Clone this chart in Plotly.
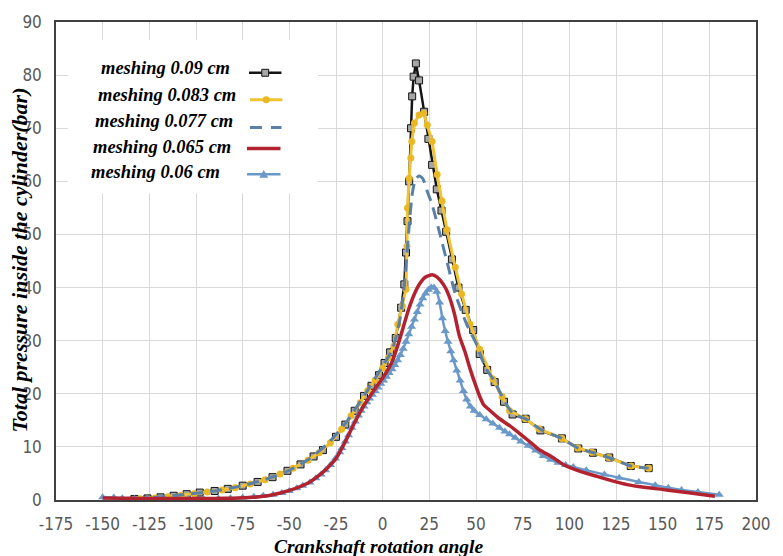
import plotly.graph_objects as go

# ---------------- data ----------------
x_ticks = [-175, -150, -125, -100, -75, -50, -25, 0, 25, 50, 75, 100, 125, 150, 175, 200]
y_ticks = [0, 10, 20, 30, 40, 50, 60, 70, 80, 90]

series_names = ["meshing 0.09 cm", "meshing 0.083 cm", "meshing 0.077 cm",
                "meshing 0.065 cm", "meshing 0.06 cm"]

# meshing 0.09 cm (black, square markers)
x_009 = [-133, -126, -119, -112, -105, -98, -90, -83, -75, -67, -59, -51, -44, -37, -32, -25,
         -20, -15, -10, -6, -2, 1, 4, 7, 9.9, 11.6, 12.5, 13.3, 14.2, 15.2, 15.8, 16.6, 17.8,
         19.5, 22.2, 24.5, 26.5, 29, 31.5, 34, 37.1, 40.6, 44.5, 48.5, 52, 56, 60, 65, 69.6,
         76.6, 84.5, 96, 104.8, 112.7, 121.4, 132.9, 142.5]
y_009 = [0.2, 0.3, 0.5, 0.8, 1.1, 1.4, 1.7, 2.1, 2.7, 3.4, 4.3, 5.5, 6.7, 8.2, 9.4, 11.9,
         14.2, 16.8, 19.6, 21.5, 23.5, 25.8, 27.8, 30.5, 36.2, 40.6, 46.6, 52.5, 60, 70, 76,
         79.7, 82.2, 79, 73.1, 68, 63.1, 58.5, 54.5, 50.5, 45.3, 40, 35.8, 32, 27.5, 24.5,
         22.2, 18.5, 16.1, 15.3, 13.1, 11.6, 9.7, 8.9, 8.0, 6.4, 6.0]

# meshing 0.083 cm (gold, circle markers)
x_0083 = [-130, -122, -115, -108, -101, -94, -86, -79, -71, -63, -55, -48, -40, -34, -28, -22,
          -17, -12, -8, -4, 0, 3, 6, 8.1, 10.5, 12.5, 13.0, 13.3, 14.2, 15.1, 15.6, 17, 19.5,
          22, 23.9, 26.5, 29.2, 31.8, 34.4, 38.9, 42.3, 46.8, 52, 59, 64, 68, 76.5, 83.7, 96,
          104.5, 112, 121, 133, 142.5]
y_0083 = [0.25, 0.4, 0.6, 0.9, 1.2, 1.5, 1.9, 2.3, 3.0, 3.8, 4.9, 6.0, 7.5, 8.9, 10.8, 13.3,
          15.8, 18.3, 20.6, 22.6, 24.8, 26.8, 29.0, 33.1, 36.5, 39.7, 47.8, 55, 60.6, 64.4,
          67.5, 71, 72.5, 72.8, 70.6, 67.5, 61.3, 56.3, 50.9, 43.8, 38.8, 33.1, 28.4, 22.8,
          19.5, 16.8, 15.3, 13.4, 11.6, 9.8, 9.0, 8.0, 6.4, 6.0]

# meshing 0.077 cm (steel blue, dashed)
x_0077 = [-133, -120, -105, -90, -75, -60, -50, -40, -30, -20, -10, 0, 5, 9, 11.5, 13.3, 14.5,
          16, 17.5, 19.5, 21.5, 24, 26.5, 30, 35.3, 38.9, 45, 50.2, 55, 60, 65, 70, 77, 85,
          96, 105, 113, 121, 133, 142.5]
y_0077 = [0.2, 0.55, 1.1, 1.7, 2.7, 4.2, 5.6, 7.6, 10.4, 14.4, 19.6, 25.2, 28.2, 33.5, 40,
          47.5, 53, 58, 60.3, 61, 60.5, 58, 55.6, 51, 43.7, 38.8, 33.1, 29.4, 25, 22.3, 18.8,
          16.2, 15.2, 13.2, 11.6, 9.7, 8.9, 8.0, 6.4, 6.0]

# meshing 0.065 cm (dark red, solid)
x_0065 = [-150, -140, -130, -120, -110, -100, -90, -80, -70, -60, -50, -40, -35, -30, -25,
          -20, -15, -10, -5, 0, 5, 8, 11, 14, 17, 20, 23, 26.5, 29, 32.7, 35.5, 38.5, 41, 44,
          47, 49.4, 52, 54, 57.3, 62.6, 68, 73.1, 78, 83.7, 90.7, 97.7, 105, 115.3, 123, 131,
          140, 152, 165, 178]
y_0065 = [0.4, 0.35, 0.3, 0.3, 0.3, 0.3, 0.3, 0.35, 0.5, 0.9, 1.8, 3.2, 4.4, 5.9, 7.8, 11.0,
          14.6, 17.8, 20.5, 23.0, 26.0, 29.0, 32.5, 36.0, 38.8, 40.8, 42.0, 42.4, 42.0, 40.5,
          38.5, 35.0, 31.0, 28.0, 24.5, 22.0, 19.5, 18.0, 16.9, 15.3, 14.0, 12.6, 11.2, 9.5,
          8.1, 6.5, 5.5, 4.4, 3.6, 2.9, 2.4, 1.9, 1.3, 0.7]

# meshing 0.06 cm (light steel blue, triangle markers)
x_006 = [-150, -144, -139.5, -133, -126, -119, -112, -104, -96, -88, -81.5, -75, -69, -64,
         -58.7, -54, -50, -46, -42.8, -39, -35.8, -33, -30.6, -28, -25.3, -23, -21.8, -20,
         -18.3, -16.5, -14.7, -13, -11.5, -10, -8.5, -7, -5.5, -4, -2.5, -1, 0.5, 2, 3.5, 5,
         6.5, 8, 9.5, 11, 12.5, 14, 15.5, 17, 18.5, 20, 21.5, 23, 24.5, 26, 27.5, 29, 30.5,
         32, 33.5, 35, 36.5, 38, 39.7, 41.5, 43.3, 45, 47, 49, 52, 55.5, 59, 62.6, 65.5, 68,
         71, 74, 78, 82, 86, 90, 94, 98, 102.1, 109.1, 118.8, 126.7, 137.2, 146, 153, 160.1,
         168.9, 180.3]
y_006 = [0.5, 0.45, 0.35, 0.25, 0.2, 0.2, 0.2, 0.2, 0.25, 0.3, 0.35, 0.45, 0.6, 0.8, 1.0,
         1.3, 1.7, 2.2, 2.7, 3.3, 4.1, 4.8, 5.6, 6.6, 7.8, 9.0, 9.8, 11.0, 12.2, 13.6, 14.8,
         15.9, 16.8, 17.6, 18.4, 19.1, 19.8, 20.5, 21.2, 21.9, 22.5, 23.2, 23.9, 24.6, 25.4,
         26.3, 27.3, 28.5, 29.8, 31.2, 32.6, 34.0, 35.4, 36.8, 38.0, 38.9, 39.6, 40.0, 40.0,
         39.2, 37.2, 34.2, 31.8, 29.8, 28.0, 26.3, 24.4, 22.5, 20.5, 18.9, 17.6, 16.8, 16.0,
         15.2, 14.4, 13.6, 12.9, 12.4, 11.7, 11.0, 10.2, 9.3, 8.3, 7.6, 7.0, 6.6, 6.2, 5.6,
         4.8, 4.2, 3.4, 2.8, 2.3, 1.9, 1.5, 1.0]

# ---------------- styles ----------------
C_BLACK = "#151515"
C_GOLD = "#f1c232"
C_DASH = "#5b80a8"
C_RED = "#b3222f"
C_TRI = "#6a98c9"
GRID = "#d9d9d9"
TICK_FONT = dict(family="Liberation Sans Narrow, DejaVu Sans Condensed, Arial Narrow, sans-serif",
                 size=17, color="#595959")
SERIF = "Liberation Serif, Times New Roman, serif"

fig = go.Figure()

fig.add_trace(go.Scatter(x=x_009, y=y_009, mode="lines+markers", name=series_names[0],
                         line=dict(color=C_BLACK, width=2.5),
                         marker=dict(symbol="square", size=7, color="#a6a6a6",
                                     line=dict(color=C_BLACK, width=1))))
fig.add_trace(go.Scatter(x=x_0083, y=y_0083, mode="lines+markers", name=series_names[1],
                         line=dict(color=C_GOLD, width=3),
                         marker=dict(symbol="circle", size=7, color="#e9b824",
                                     line=dict(width=0))))
fig.add_trace(go.Scatter(x=x_0077, y=y_0077, mode="lines", name=series_names[2],
                         line=dict(color=C_DASH, width=3, dash="12px,7px", shape="spline",
                                   smoothing=0.6)))
fig.add_trace(go.Scatter(x=x_006, y=y_006, mode="lines+markers", name=series_names[4],
                         line=dict(color=C_TRI, width=2.5, shape="spline", smoothing=0.5),
                         marker=dict(symbol="triangle-up", size=8, color=C_TRI,
                                     line=dict(width=0))))
fig.add_trace(go.Scatter(x=x_0065, y=y_0065, mode="lines", name=series_names[3],
                         line=dict(color=C_RED, width=3.5, shape="spline", smoothing=0.6)))

# ---------------- layout geometry ----------------
W, H = 783, 556
PLOT_X0, PLOT_X1, PLOT_Y0, PLOT_Y1 = 56, 767, 20, 500   # plot area in window pixels
L, R, T, B = PLOT_X0, W - PLOT_X1, PLOT_Y0, H - PLOT_Y1
PW, PH = PLOT_X1 - PLOT_X0, PLOT_Y1 - PLOT_Y0


def px(xp):
    return (xp - PLOT_X0) / PW


def py(yp):
    return (PLOT_Y1 - yp) / PH


shapes = []
annotations = []

# legend box (covers the grid like in the reference)
shapes.append(dict(type="rect", xref="paper", yref="paper", x0=px(68), x1=px(322),
                   y0=py(192), y1=py(38), fillcolor="white", line=dict(width=0),
                   layer="above"))

legend_rows = [  # (text left px, text y px, sample x0, sample x1, sample y)
    (100, 66, 252, 285, 71),
    (97, 93, 253, 286, 98),
    (94, 119, 253, 285, 126),
    (92, 146, 250, 284, 147),
    (90, 171, 250, 284, 173),
]

for i, (tx, ty, sx0, sx1, sy) in enumerate(legend_rows):
    annotations.append(dict(xref="paper", yref="paper", x=px(tx), y=py(ty), xanchor="left",
                            yanchor="middle", showarrow=False, text=series_names[i],
                            font=dict(family=SERIF, size=18.5, color="black", weight="bold",
                                      style="italic")))
    xm = (sx0 + sx1) / 2
    if i == 0:
        shapes.append(dict(type="line", xref="paper", yref="paper", x0=px(sx0), x1=px(sx1),
                           y0=py(sy), y1=py(sy), line=dict(color=C_BLACK, width=2.5),
                           layer="above"))
        shapes.append(dict(type="rect", xref="paper", yref="paper", x0=px(xm - 3.5),
                           x1=px(xm + 3.5), y0=py(sy + 3.5), y1=py(sy - 3.5),
                           fillcolor="#a6a6a6", line=dict(color=C_BLACK, width=1),
                           layer="above"))
    elif i == 1:
        shapes.append(dict(type="line", xref="paper", yref="paper", x0=px(sx0), x1=px(sx1),
                           y0=py(sy), y1=py(sy), line=dict(color=C_GOLD, width=3),
                           layer="above"))
        shapes.append(dict(type="circle", xref="paper", yref="paper", x0=px(xm - 3.5),
                           x1=px(xm + 3.5), y0=py(sy + 3.5), y1=py(sy - 3.5),
                           fillcolor="#e9b824", line=dict(width=0), layer="above"))
    elif i == 2:
        shapes.append(dict(type="line", xref="paper", yref="paper", x0=px(sx0), x1=px(sx1),
                           y0=py(sy), y1=py(sy),
                           line=dict(color=C_DASH, width=3, dash="12px,9px"), layer="above"))
    elif i == 3:
        shapes.append(dict(type="line", xref="paper", yref="paper", x0=px(sx0), x1=px(sx1),
                           y0=py(sy), y1=py(sy), line=dict(color=C_RED, width=3.5),
                           layer="above"))
    else:
        shapes.append(dict(type="line", xref="paper", yref="paper", x0=px(sx0), x1=px(sx1),
                           y0=py(sy), y1=py(sy), line=dict(color=C_TRI, width=2.5),
                           layer="above"))
        x_a, x_b, x_c = px(xm - 4.5), px(xm + 4.5), px(xm)
        y_a, y_c = py(sy + 3.5), py(sy - 4.5)
        shapes.append(dict(type="path", xref="paper", yref="paper",
                           path=f"M {x_a} {y_a} L {x_b} {y_a} L {x_c} {y_c} Z",
                           fillcolor=C_TRI, line=dict(width=0), layer="above"))

# axis titles
annotations.append(dict(xref="paper", yref="paper", x=px(384), y=py(547), xanchor="center",
                        yanchor="middle", showarrow=False, text="Crankshaft rotation angle",
                        font=dict(family=SERIF, size=19.5, color="black", weight="bold",
                                  style="italic")))
annotations.append(dict(xref="paper", yref="paper", x=px(18), y=py(259), xanchor="center",
                        yanchor="middle", showarrow=False, textangle=-90,
                        text="Total pressure inside the cylinder(bar)",
                        font=dict(family=SERIF, size=22, color="black", weight="bold",
                                  style="italic")))

fig.update_layout(
    width=W, height=H,
    margin=dict(l=L, r=R, t=T, b=B),
    paper_bgcolor="white", plot_bgcolor="white",
    showlegend=False,
    shapes=shapes,
    annotations=annotations,
)

fig.update_xaxes(range=[-175, 200], tickvals=x_ticks, ticktext=[str(v) for v in x_ticks],
                 showgrid=True, gridcolor=GRID, gridwidth=1, zeroline=False,
                 showline=True, linecolor="#404040", linewidth=1.5, mirror=True,
                 ticks="", tickfont=TICK_FONT, ticklabelstandoff=8)
fig.update_yaxes(range=[0, 90], tickvals=y_ticks, ticktext=[str(v) for v in y_ticks],
                 showgrid=True, gridcolor=GRID, gridwidth=1, zeroline=False,
                 showline=True, linecolor="#404040", linewidth=1.5, mirror=True,
                 ticks="", tickfont=TICK_FONT, ticklabelstandoff=9)

# remove the default 8px page margin so the figure fills the window exactly
fig.write_html("out.html",
               config={"displayModeBar": False},
               post_script="document.body.style.margin='0';"
                           "document.documentElement.style.overflow='hidden';")
